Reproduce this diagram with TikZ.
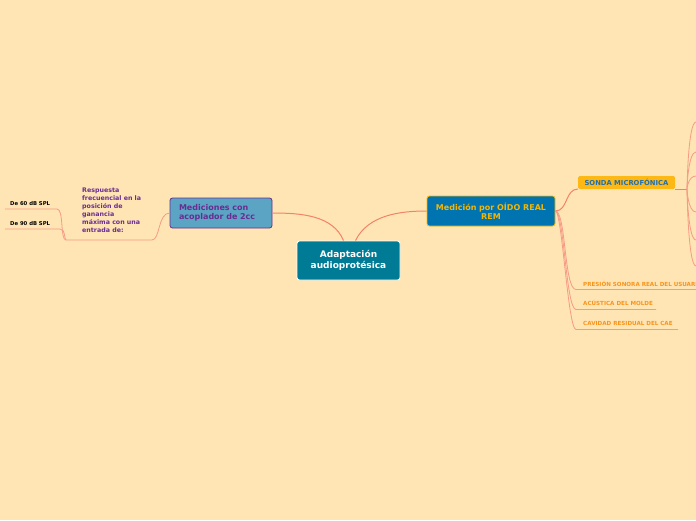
\documentclass[tikz,border=0pt]{standalone}
\usepackage{fontspec}
\setmainfont{DejaVu Sans}
\definecolor{bg}{RGB}{255,229,180}
\definecolor{conn}{RGB}{244,130,104}
\definecolor{teal}{RGB}{0,123,150}
\definecolor{lblue}{RGB}{92,164,196}
\definecolor{purp}{RGB}{106,44,145}
\definecolor{dblue}{RGB}{0,115,177}
\definecolor{gold}{RGB}{242,183,5}
\definecolor{sonda}{RGB}{253,184,19}
\definecolor{sblue}{RGB}{31,111,178}
\definecolor{orng}{RGB}{247,148,29}
\tikzset{
  conn/.style={draw=conn, line width=1pt},
  thin conn/.style={draw=conn!80, line width=0.8pt},
  lbl/.style={inner sep=0pt, anchor=base west, font=\bfseries\fontsize{5.6}{6.5}\selectfont},
}
\begin{document}
\begin{tikzpicture}[x=1pt,y=-1pt]
\fill[bg] (0,0) rectangle (696,520);
\useasboundingbox (0,0) rectangle (696,520);

% main nodes
\node[draw=white, line width=0.9pt, fill=teal, rounded corners=2.5pt, minimum width=103pt, minimum height=39pt, text=white, align=center, font=\bfseries\fontsize{9}{11}\selectfont] (c) at (348.5,260.5) {Adaptación\\audioprotésica};
\node[draw=purp, line width=0.8pt, fill=lblue, rounded corners=2.5pt, minimum width=102pt, minimum height=30pt, text=purp, align=left, text width=84pt, font=\bfseries\fontsize{8}{9}\selectfont] (m) at (221,213) {Mediciones con\\acoplador de 2cc};
\node[draw=gold, line width=0.8pt, fill=dblue, rounded corners=2.5pt, minimum width=128pt, minimum height=30pt, text=gold, align=center, font=\bfseries\fontsize{8}{9}\selectfont] (r) at (491,211) {Medición por OÍDO REAL\\REM};
\node[fill=sonda, rounded corners=1.5pt, minimum width=97pt, minimum height=13pt, inner sep=1pt, text=sblue, font=\bfseries\fontsize{6.8}{8}\selectfont] (s) at (626.5,182.5) {SONDA MICROFÓNICA};

% connectors from centre
\draw[conn] (c.north) ++(-5,0) coordinate (c1) .. controls (333,215) and (300,213) .. (m.east);
\draw[conn] (c.north) ++(7,0) coordinate (c2) .. controls (368,215) and (400,211) .. (r.west);

% right side
\coordinate (sb) at (578,189);
\draw[conn] (r.east) .. controls (568,211) and (565,189) .. (sb);
\coordinate (se) at (687,189);
\draw[conn] (s.east |- sb) -- (se);
\foreach \y in {122,152,176,212,240,266}{
  \draw[thin conn] (se) .. controls (687,189) and (688,\y) .. (696,\y);
}

\node[lbl, text=orng] (p1) at (583,286) {PRESIÓN SONORA REAL DEL USUARIO};
\node[lbl, text=orng] (p2) at (583,305.5) {ACÚSTICA DEL MOLDE};
\node[lbl, text=orng] (p3) at (583,325.5) {CAVIDAD RESIDUAL DEL CAE};
\coordinate (u1) at (576,289.5);
\coordinate (u2) at (576,309.5);
\coordinate (u3) at (576,329.5);
\draw[thin conn] (r.east) .. controls (566,211) and (564,289.5) .. (u1) -- (700,289.5);
\draw[thin conn] (r.east) .. controls (564,211) and (566,309.5) .. (u2) -- (656,309.5);
\draw[thin conn] (r.east) .. controls (562,211) and (568,329.5) .. (u3) -- (678,329.5);

% left side
\node[inner sep=0pt, anchor=north west, text=purp, align=left, font=\bfseries\fontsize{6.3}{8}\selectfont] (resp) at (82,188) {Respuesta\\frecuencial en la\\posición de\\ganancia\\máxima con una\\entrada de:};
\coordinate (lr) at (152,240);
\coordinate (ll) at (66,240);
\draw[thin conn] (m.west) .. controls (158,213) and (160,240) .. (lr) -- (ll);
\node[lbl, font=\bfseries\fontsize{5.3}{6}\selectfont] (d60) at (10,205) {De 60 dB SPL};
\node[lbl, font=\bfseries\fontsize{5.3}{6}\selectfont] (d90) at (10,225) {De 90 dB SPL};
\coordinate (a60) at (57,209);
\coordinate (a90) at (60,229);
\draw[thin conn] (ll) .. controls (60,240) and (64,209) .. (a60) -- (5,209);
\draw[thin conn] (ll) .. controls (64,240) and (66,229) .. (a90) -- (5,229);
\end{tikzpicture}
\end{document}
